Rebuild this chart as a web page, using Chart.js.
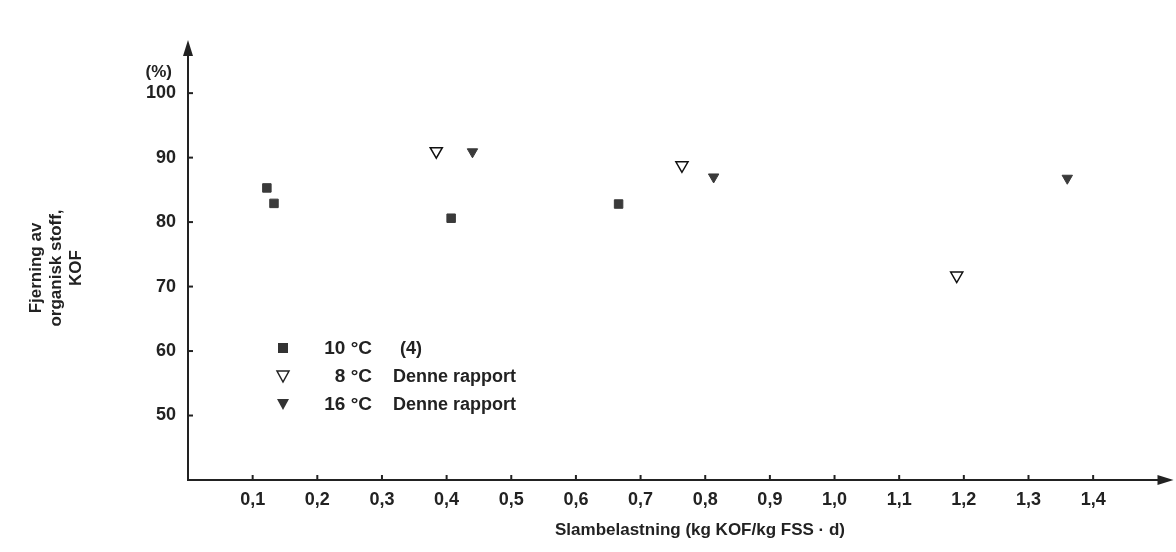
<!DOCTYPE html>
<html>
<head>
<meta charset="utf-8">
<script src="https://cdn.jsdelivr.net/npm/chart.js@4"></script>
<style>
  html, body { margin: 0; padding: 0; background: #fff; }
  #wrap { width: 1176px; height: 552px; }
</style>
</head>
<body>
<div id="wrap"><canvas id="chart" width="1176" height="552"></canvas></div>
<script>
const xTicks = [0.1, 0.2, 0.3, 0.4, 0.5, 0.6, 0.7, 0.8, 0.9, 1.0, 1.1, 1.2, 1.3, 1.4];
const yTicks = [50, 60, 70, 80, 90, 100];

const series10C = [
  { x: 0.122, y: 85.3 },
  { x: 0.133, y: 82.9 },
  { x: 0.407, y: 80.6 },
  { x: 0.666, y: 82.8 },
];
const series8C = [
  { x: 0.384, y: 91.0 },
  { x: 0.764, y: 88.8 },
  { x: 1.189, y: 71.7 },
];
const series16C = [
  { x: 0.44, y: 90.9 },
  { x: 0.813, y: 87.0 },
  { x: 1.36, y: 86.8 },
];

const FONT = "'Liberation Sans', Arial, sans-serif";
const INK = "#222";

const decorPlugin = {
  id: "decor",
  afterDraw(chart) {
    const { ctx, scales: { x, y } } = chart;
    const x0 = x.getPixelForValue(x.min);
    const y0 = y.getPixelForValue(y.min);
    const xEnd = x.getPixelForValue(x.max);
    const yTop = y.getPixelForValue(y.max);
    ctx.save();
    ctx.fillStyle = INK;
    ctx.strokeStyle = INK;
    ctx.lineWidth = 2;

    // small tick marks inside axes
    xTicks.forEach((v) => {
      const px = x.getPixelForValue(v);
      ctx.beginPath(); ctx.moveTo(px, y0); ctx.lineTo(px, y0 - 5); ctx.stroke();
    });
    yTicks.forEach((v) => {
      const py = y.getPixelForValue(v);
      ctx.beginPath(); ctx.moveTo(x0, py); ctx.lineTo(x0 + 5, py); ctx.stroke();
    });

    // arrow heads
    ctx.beginPath();
    ctx.moveTo(x0, yTop - 8); ctx.lineTo(x0 - 5, yTop + 8); ctx.lineTo(x0 + 5, yTop + 8); ctx.closePath(); ctx.fill();
    ctx.beginPath();
    ctx.moveTo(xEnd + 6, y0); ctx.lineTo(xEnd - 10, y0 - 5); ctx.lineTo(xEnd - 10, y0 + 5); ctx.closePath(); ctx.fill();

    // (%) unit
    ctx.font = `bold 17px ${FONT}`;
    ctx.textAlign = "right";
    ctx.textBaseline = "middle";
    ctx.fillText("(%)", 172, 72);

    // y title, rotated
    ctx.save();
    ctx.translate(55, 268);
    ctx.rotate(-Math.PI / 2);
    ctx.textAlign = "center";
    ctx.font = `bold 17px ${FONT}`;
    ctx.fillText("Fjerning av", 0, -19);
    ctx.fillText("organisk stoff,", 0, 1);
    ctx.fillText("KOF", 0, 21);
    ctx.restore();

    // x title
    ctx.textAlign = "center";
    ctx.font = `bold 17px ${FONT}`;
    ctx.fillText("Slambelastning (kg KOF/kg FSS · d)", 700, 530);

    // legend
    const rows = [
      ["rect", true, "10°C", "(4)", 348],
      ["tri", false, "8°C", "Denne rapport", 376],
      ["tri", true, "16°C", "Denne rapport", 404],
    ];
    rows.forEach(([shape, filled, temp, src, py]) => {
      const mx = 283;
      ctx.beginPath();
      if (shape === "rect") {
        ctx.fillStyle = "#333";
        ctx.fillRect(mx - 5, py - 5, 10, 10);
      } else {
        ctx.moveTo(mx - 6, py - 5); ctx.lineTo(mx + 6, py - 5); ctx.lineTo(mx, py + 6); ctx.closePath();
        ctx.lineWidth = 1.5;
        if (filled) { ctx.fillStyle = "#333"; ctx.fill(); } else { ctx.stroke(); }
      }
      ctx.fillStyle = INK;
      ctx.font = `bold 19px ${FONT}`;
      ctx.textAlign = "right";
      ctx.fillText(temp.replace("°", " °"), 372, py + 1);
      ctx.textAlign = "left";
      ctx.font = `bold 18px ${FONT}`;
      ctx.fillText(src, shape === "rect" ? 400 : 393, py + 1);
    });
    ctx.restore();
  },
};

new Chart(document.getElementById("chart"), {
  type: "scatter",
  data: {
    datasets: [
      { label: "10°C (4)", data: series10C, pointStyle: "rect", pointRadius: 6, backgroundColor: "#3a3a3a", borderColor: "#3a3a3a" },
      { label: "8°C Denne rapport", data: series8C, pointStyle: "triangle", rotation: 180, pointRadius: 7, backgroundColor: "#fff", borderColor: "#111", borderWidth: 1.5 },
      { label: "16°C Denne rapport", data: series16C, pointStyle: "triangle", rotation: 180, pointRadius: 6, backgroundColor: "#3a3a3a", borderColor: "#3a3a3a" },
    ],
  },
  options: {
    responsive: false,
    animation: false,
    layout: { padding: { top: 48, right: 6, left: 0, bottom: 0 } },
    plugins: { legend: { display: false }, tooltip: { enabled: false } },
    scales: {
      x: {
        type: "linear",
        min: 0,
        max: 1.515,
        afterBuildTicks: (scale) => { scale.ticks = xTicks.map((v) => ({ value: v })); },
        afterFit: (scale) => { scale.height = 72; },
        grid: { display: false, drawTicks: false },
        border: { color: INK, width: 2 },
        ticks: {
          padding: 9,
          color: INK,
          font: { family: FONT, size: 18, weight: "bold" },
          callback: (v) => v.toFixed(1).replace(".", ","),
        },
      },
      y: {
        type: "linear",
        min: 40,
        max: 107,
        afterBuildTicks: (scale) => { scale.ticks = yTicks.map((v) => ({ value: v })); },
        afterFit: (scale) => { scale.width = 188; },
        grid: { display: false, drawTicks: false },
        border: { color: INK, width: 2 },
        ticks: {
          padding: 12,
          color: INK,
          font: { family: FONT, size: 18, weight: "bold" },
        },
      },
    },
  },
  plugins: [decorPlugin],
});
</script>
</body>
</html>
